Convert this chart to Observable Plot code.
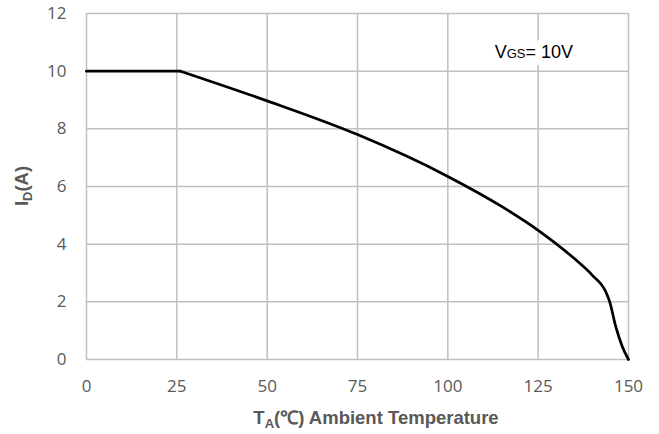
<!DOCTYPE html>
<html><head><meta charset="utf-8">
<script src="https://cdn.jsdelivr.net/npm/d3@7"></script>
<script src="https://cdn.jsdelivr.net/npm/@observablehq/plot@0.6"></script>
<style>
body{margin:0;background:#fff}
#chart{position:relative;width:659px;height:434px}
</style>
</head><body><div id="chart"></div>
<script>
// Ambient temperature (°C) and drain current (A)
const temperature = [0, 26, 50, 75, 100, 115, 125, 135, 140, 143.7, 144.8, 146.5, 148.3, 150];
const current     = [10, 10, 8.97, 7.8, 6.35, 5.3, 4.48, 3.5, 2.92, 2.35, 2.0, 1.13, 0.44, 0];
const xTicks = [0, 25, 50, 75, 100, 125, 150];
const yTicks = [0, 2, 4, 6, 8, 10, 12];
const noteText = ["VGS= 10V"];
const noteX = [123.8];
const noteY = [10.65];

const data = temperature.map((t, k) => ({t, i: current[k]}));
const flat = data.filter(d => d.t <= 26);
const falling = data.filter(d => d.t >= 26);
const note = noteText.map((s, k) => ({s, x: noteX[k], y: noteY[k]}));

const grid = {stroke: "#bfbfbf", strokeOpacity: 1, strokeWidth: 1.5};
const tickFont = {fontFamily: "'Open Sans', sans-serif", fontSize: 17, fill: "#595959"};
const noteFont = {fontFamily: "'Liberation Sans', Arial, sans-serif", fontSize: 18, textAnchor: "middle", lineAnchor: "middle"};
const plot = Plot.plot({
  width: 659, height: 434,
  marginLeft: 86, marginRight: 31, marginTop: 13, marginBottom: 75,
  x: {domain: [0, 150], label: null, axis: null},
  y: {domain: [0, 12], label: null, axis: null},
  style: {fontFamily: "'Open Sans', sans-serif", fontSize: "17px", color: "#595959", background: "white"},
  marks: [
    Plot.gridX(xTicks, grid),
    Plot.gridY(yTicks, grid),
    Plot.text(xTicks, {x: d => d, text: d => String(d), frameAnchor: "bottom", dy: 27.5, lineAnchor: "middle", textAnchor: "middle", ...tickFont}),
    Plot.text(yTicks, {y: d => d, text: d => String(d), frameAnchor: "left", dx: -20, lineAnchor: "middle", textAnchor: "end", ...tickFont}),
    Plot.text(note, {x: "x", y: "y", text: "s", fill: "white", stroke: "white", strokeWidth: 16, ...noteFont}),
    Plot.text(note, {x: "x", y: "y", text: "s", fill: "black", ...noteFont}),
    Plot.line(flat, {x: "t", y: "i", stroke: "black", strokeWidth: 2.75}),
    Plot.line(falling, {x: "t", y: "i", curve: "monotone-x", stroke: "black", strokeWidth: 2.75})
  ]
});
document.getElementById("chart").appendChild(plot);

const svg = d3.select(plot);
// annotation with small "GS"
svg.selectAll("text").filter(function() { return this.textContent === "VGS= 10V"; })
  .each(function() {
    const t = d3.select(this);
    t.text(null);
    t.append("tspan").text("V");
    t.append("tspan").attr("font-size", 13).text("GS");
    t.append("tspan").text("= 10V");
  });

const titleFont = "'Liberation Sans', Arial, sans-serif";
// x axis title
const xt = svg.append("text")
  .attr("x", 376).attr("y", 424)
  .attr("text-anchor", "middle")
  .attr("font-family", titleFont).attr("font-weight", "bold").attr("font-size", 18.5)
  .attr("fill", "#595959");
xt.append("tspan").text("T");
xt.append("tspan").attr("font-size", 13).attr("dy", 4).text("A");
xt.append("tspan").attr("dy", -4).text("(℃) Ambient Temperature");

// y axis title
const yt = svg.append("text")
  .attr("transform", "translate(28,186) rotate(-90)")
  .attr("text-anchor", "middle")
  .attr("font-family", titleFont).attr("font-weight", "bold").attr("font-size", 18.5)
  .attr("fill", "#595959");
yt.append("tspan").text("I");
yt.append("tspan").attr("font-size", 13).attr("dy", 4).text("D");
yt.append("tspan").attr("dy", -4).text("(A)");
</script>
</body></html>
